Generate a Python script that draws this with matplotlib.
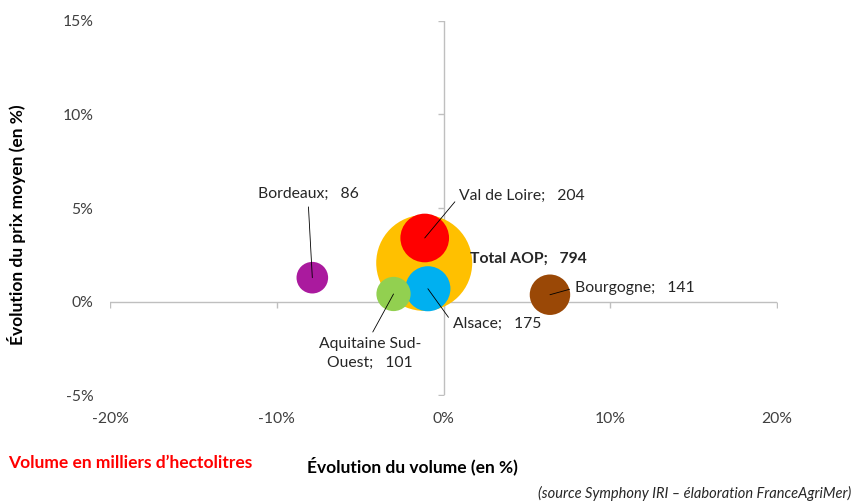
import matplotlib
matplotlib.use("Agg")
import matplotlib.pyplot as plt

plt.rcParams["font.family"] = ["Lato", "DejaVu Sans"]

# données (évolution en %, volume en milliers d'hl)
regions = ["Total AOP", "Val de Loire", "Alsace", "Aquitaine Sud-\nOuest", "Bordeaux", "Bourgogne"]
evol_volume = [-1.16, -1.13, -0.94, -3.0, -7.87, 6.38]
evol_prix = [2.07, 3.4, 0.69, 0.41, 1.28, 0.37]
volumes = [794, 204, 175, 101, 86, 141]
couleurs = ["#FFC000", "#FF0000", "#00B0F0", "#92D050", "#AA1A9E", "#9A4806"]

x_ticks = [-20, -10, 0, 10, 20]
y_ticks = [-5, 0, 5, 10, 15]

# placement des étiquettes (décalage en points, alignement, point d'attache de la ligne)
label_pos = [
    ((33, 3), "left", None),
    ((25, 30), "left", (0, 0.5)),
    ((18, -25), "left", (0, 0.5)),
    ((-17, -43), "center", (0.5, 1)),
    ((-3, 60), "center", (0.5, 0)),
    ((18, 5), "left", (0, 0.5)),
]

fig = plt.figure(figsize=(8.53, 5.03), dpi=100)
ax = fig.add_axes([0.129, 0.2141, 0.782, 0.7447])

grey = "#BFBFBF"
ax.axhline(0, color=grey, lw=1, zorder=1)
ax.axvline(0, color=grey, lw=1, zorder=1)
# petites graduations sur les axes qui se croisent en 0
ax.plot(x_ticks, [0] * len(x_ticks), ls="none", marker=3, ms=4, color=grey, zorder=1)
ax.plot([0] * len(y_ticks), y_ticks, ls="none", marker=0, ms=4, color=grey, zorder=1)

s_scale = 4777 / max(volumes)
ax.scatter(evol_volume, evol_prix, s=[v * s_scale for v in volumes], c=couleurs,
           linewidths=0, zorder=3)

for i, name in enumerate(regions):
    (dx, dy), ha, rel = label_pos[i]
    txt = f"{name};   {volumes[i]}"
    props = None
    if rel is not None:
        props = dict(arrowstyle="-", color="black", lw=0.6, relpos=rel, shrinkA=2, shrinkB=0)
    ax.annotate(txt, (evol_volume[i], evol_prix[i]), xytext=(dx, dy), textcoords="offset points",
                ha=ha, va="center", fontsize=11.3, color="#262626", linespacing=1.45,
                fontweight="bold" if i == 0 else "normal", arrowprops=props, zorder=5)

ax.set_xlim(-20, 20)
ax.set_ylim(-5, 15)
ax.set_xticks(x_ticks)
ax.set_yticks(y_ticks)
ax.set_xticklabels([f"{t}%" for t in x_ticks])
ax.set_yticklabels([f"{t}%" for t in y_ticks])
ax.tick_params(length=0, labelsize=11.3, labelcolor="#404040")
ax.tick_params(axis="x", pad=12)
ax.tick_params(axis="y", pad=12)
for sp in ax.spines.values():
    sp.set_visible(False)

fig.text(17 / 853, 1 - 225 / 503, "Évolution du prix moyen (en %)", rotation=90, ha="center",
         va="center", fontsize=12.5, fontweight="bold")
fig.text(412 / 853, 1 - 466 / 503, "Évolution du volume (en %)", ha="center", va="center",
         fontsize=12.5, fontweight="bold")
fig.text(8 / 853, 1 - 463 / 503, "Volume en milliers d\u2019hectolitres", ha="left", va="center",
         fontsize=12.5, fontweight="bold", color="#FF0000")
fig.text(851 / 853, 1 - 493 / 503, "(source Symphony IRI \u2013 élaboration FranceAgriMer)",
         ha="right", va="center", fontsize=10.5, style="italic", color="#262626")

fig.savefig("out.png", dpi=100)
